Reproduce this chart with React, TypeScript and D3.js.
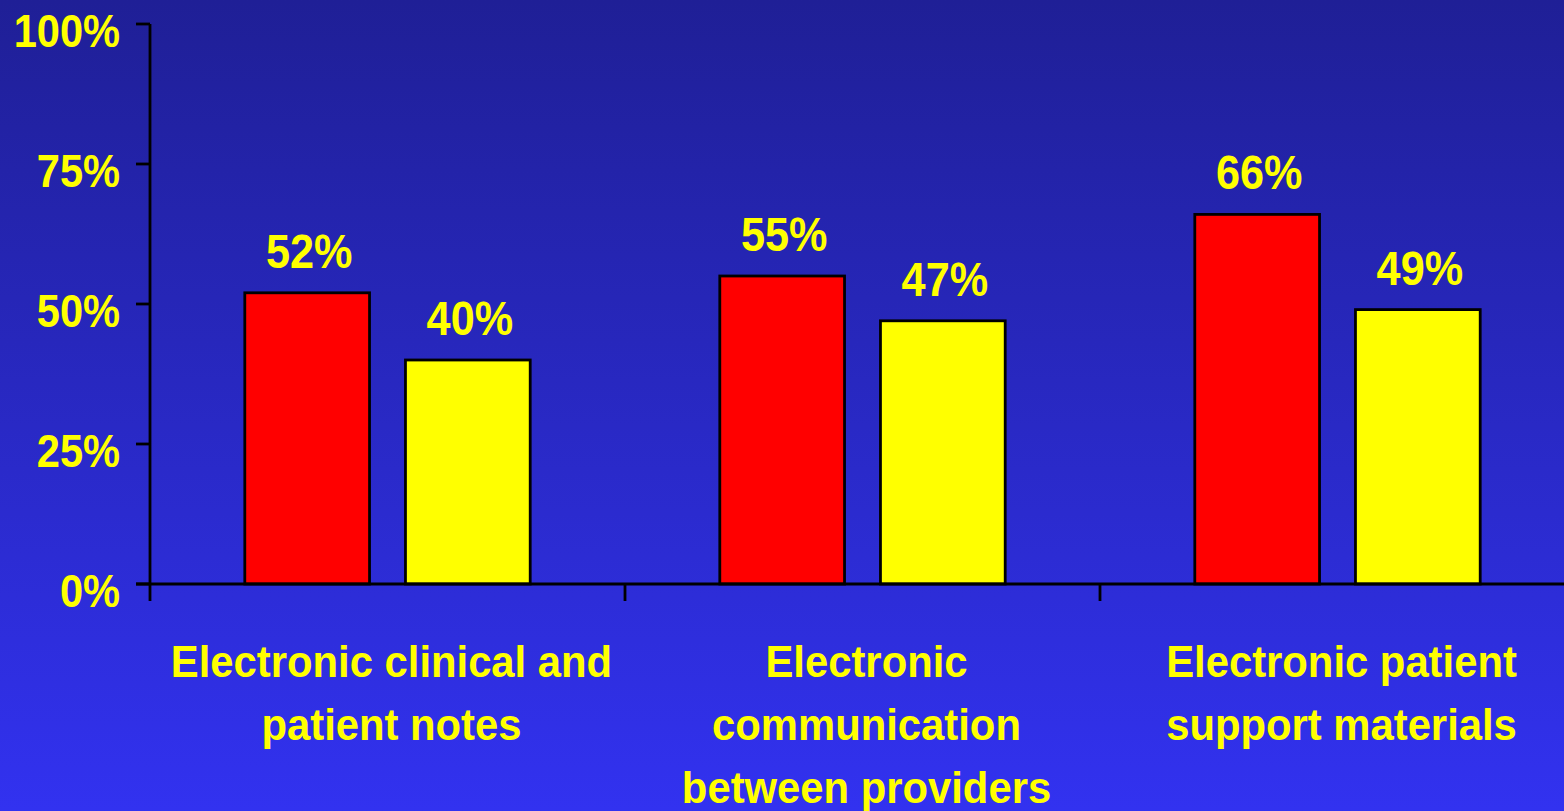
import React from "react";
import * as d3 from "d3";

// Share of respondents per category, two series per category
const categories = [
  ["Electronic clinical and", "patient notes"],
  ["Electronic", "communication", "between providers"],
  ["Electronic patient", "support materials"],
];
const seriesNames = ["Series A", "Series B"];
const seriesA = [52, 55, 66];
const seriesB = [40, 47, 49];
const yTicks = [0, 25, 50, 75, 100];

const W = 1564;
const H = 811;
const FONT = "'Liberation Sans', Arial, Helvetica, sans-serif";
const YELLOW = "#ffff00";
const COLORS = ["#ff0000", "#ffff00"];

export default function App() {
  const x0 = d3
    .scaleBand<number>()
    .domain(categories.map((_, i) => i))
    .range([150, 1575])
    .paddingInner(0)
    .paddingOuter(0);
  const x1 = d3
    .scaleBand<number>()
    .domain(seriesNames.map((_, i) => i))
    .range([0, x0.step()])
    .paddingInner(0.2236)
    .paddingOuter(0.59);
  const y = d3.scaleLinear().domain([0, 100]).range([584, 24]);

  const values = [seriesA, seriesB];
  const fmt = (v: number) => `${v}%`;

  return (
    <svg
      width={W}
      height={H}
      viewBox={`0 0 ${W} ${H}`}
      style={{ position: "absolute", left: 0, top: 0, display: "block" }}
    >
      <defs>
        <linearGradient id="bg" x1="0" y1="0" x2="0" y2="1">
          <stop offset="0" stopColor="#1f1f96" />
          <stop offset="1" stopColor="#3232f0" />
        </linearGradient>
      </defs>
      <rect x={0} y={0} width={W} height={H} fill="url(#bg)" />

      {/* bars */}
      {categories.map((_, ci) =>
        values.map((vals, si) => {
          const bx = (x0(ci) ?? 0) + (x1(si) ?? 0);
          const by = y(vals[ci]);
          return (
            <rect
              key={`b-${ci}-${si}`}
              x={bx}
              y={by}
              width={x1.bandwidth()}
              height={y(0) - by}
              fill={COLORS[si]}
              stroke="#000"
              strokeWidth={2.8}
            />
          );
        })
      )}

      {/* value labels */}
      {categories.map((_, ci) =>
        values.map((vals, si) => {
          const cx = (x0(ci) ?? 0) + (x1(si) ?? 0) + x1.bandwidth() / 2 + 2;
          const ly = y(vals[ci]) - 25;
          return (
            <text
              key={`v-${ci}-${si}`}
              transform={`translate(${cx},${ly}) scale(0.9,1)`}
              textAnchor="middle"
              fontFamily={FONT}
              fontWeight="bold"
              fontSize={48}
              fill={YELLOW}
            >
              {fmt(vals[ci])}
            </text>
          );
        })
      )}

      {/* y axis */}
      <line x1={150} x2={150} y1={y(100)} y2={601} stroke="#000" strokeWidth={2.8} />
      {yTicks.map((t) => (
        <g key={`t-${t}`}>
          <line x1={136} x2={150} y1={y(t)} y2={y(t)} stroke="#000" strokeWidth={2.8} />
          <text
            transform={`translate(120,${y(t) + 23}) scale(0.885,1)`}
            textAnchor="end"
            fontFamily={FONT}
            fontWeight="bold"
            fontSize={47}
            fill={YELLOW}
          >
            {fmt(t)}
          </text>
        </g>
      ))}

      {/* x axis */}
      <line x1={136} x2={W} y1={y(0)} y2={y(0)} stroke="#000" strokeWidth={2.8} />
      {categories.map((_, ci) =>
        ci === 0 ? null : (
          <line
            key={`sep-${ci}`}
            x1={x0(ci) ?? 0}
            x2={x0(ci) ?? 0}
            y1={y(0)}
            y2={601}
            stroke="#000"
            strokeWidth={2.8}
          />
        )
      )}

      {/* category labels */}
      {categories.map((lines, ci) => {
        const cx = (x0(ci) ?? 0) + x0.bandwidth() / 2 + 4;
        return lines.map((ln, li) => (
          <text
            key={`c-${ci}-${li}`}
            transform={`translate(${cx},${677 + li * 63}) scale(0.95,1)`}
            textAnchor="middle"
            fontFamily={FONT}
            fontWeight="bold"
            fontSize={44}
            fill={YELLOW}
          >
            {ln}
          </text>
        ));
      })}
    </svg>
  );
}
